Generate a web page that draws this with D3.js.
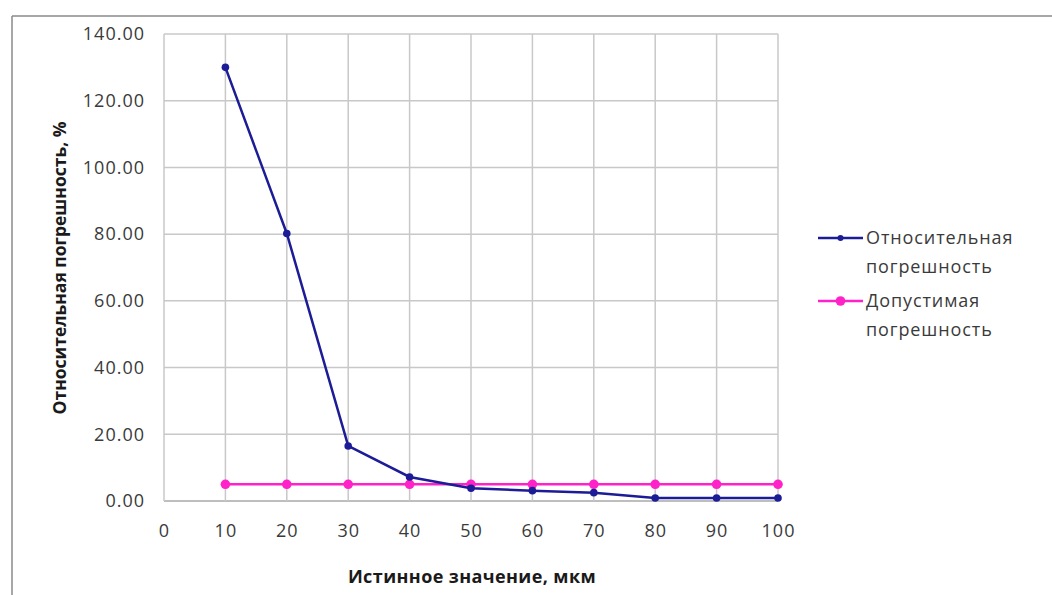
<!DOCTYPE html>
<html><head><meta charset="utf-8">
<script src="https://cdn.jsdelivr.net/npm/d3@7"></script>
<style>
body{margin:0;background:#fff;}
svg{display:block;font-family:"Open Sans",Lato,sans-serif;}
</style></head>
<body><svg id="c" width="1052" height="595"></svg>
<script>
const xValues = [10,20,30,40,50,60,70,80,90,100];
const relError = [130.0, 80.2, 16.5, 7.2, 3.8, 3.1, 2.5, 0.9, 0.9, 0.9];
const allowedError = [5,5,5,5,5,5,5,5,5,5];
const yTicks = [0,20,40,60,80,100,120,140];
const xTicks = [0,10,20,30,40,50,60,70,80,90,100];
const seriesNames = [["Относительная","погрешность"],["Допустимая","погрешность"]];
const colors = ["#1c1c96","#ff22c8"];

const svg = d3.select("#c");
// outer frame
svg.append("line").attr("x1",12).attr("x2",1052).attr("y1",16).attr("y2",16).attr("stroke","#8a8a8a").attr("stroke-width",1.5);
svg.append("line").attr("x1",12).attr("x2",12).attr("y1",16).attr("y2",595).attr("stroke","#8a8a8a").attr("stroke-width",1.5);

const x = d3.scaleLinear().domain([0,100]).range([164,778]);
const y = d3.scaleLinear().domain([0,140]).range([501,34]);

const grid = svg.append("g");
grid.selectAll(".h").data(yTicks).join("line")
  .attr("x1",x(0)).attr("x2",x(100)).attr("y1",d=>y(d)).attr("y2",d=>y(d))
  .attr("stroke",d=>d===0?"#a8a8a8":"#c8c8c8").attr("stroke-width",1.5);
grid.selectAll(".v").data(xTicks).join("line")
  .attr("y1",y(0)).attr("y2",y(140)).attr("x1",d=>x(d)).attr("x2",d=>x(d))
  .attr("stroke","#c8c8c8").attr("stroke-width",1.5);

const yAxis = svg.append("g").attr("transform",`translate(${x(0)},0)`)
  .call(d3.axisLeft(y).tickValues(yTicks).tickFormat(d3.format(".2f")).tickSize(0).tickPadding(19));
yAxis.select(".domain").remove();
yAxis.selectAll("text").attr("font-size",18).attr("letter-spacing",1).attr("fill","#3a3a3a").attr("font-family","Open Sans");

const xAxis = svg.append("g").attr("transform",`translate(0,${y(0)})`)
  .call(d3.axisBottom(x).tickValues(xTicks).tickFormat(d3.format("d")).tickSize(0).tickPadding(23));
xAxis.select(".domain").remove();
xAxis.selectAll("text").attr("font-size",18).attr("letter-spacing",1).attr("fill","#3a3a3a").attr("font-family","Open Sans");

svg.append("text").attr("transform","translate(66,268) rotate(-90)")
  .attr("text-anchor","middle").attr("font-weight","bold").attr("font-size",17.5).attr("fill","#1a1a1a")
  .text("Относительная погрешность, %");
svg.append("text").attr("x",472).attr("y",583)
  .attr("text-anchor","middle").attr("font-weight","bold").attr("font-size",18).attr("letter-spacing",0.4).attr("fill","#1a1a1a")
  .text("Истинное значение, мкм");

const line = d3.line().x((d,i)=>x(xValues[i])).y(d=>y(d));
[allowedError, relError].forEach((s,k)=>{
  const c = k===0?colors[1]:colors[0];
  const r = k===0?4.8:3.8;
  svg.append("path").datum(s).attr("d",line).attr("fill","none").attr("stroke",c).attr("stroke-width",2.5);
  svg.append("g").selectAll("circle").data(s).join("circle")
    .attr("cx",(d,i)=>x(xValues[i])).attr("cy",d=>y(d)).attr("r",r).attr("fill",c);
});

// legend
const leg = svg.append("g");
const legY = [238, 301];
seriesNames.forEach((nm,k)=>{
  leg.append("line").attr("x1",818).attr("x2",863).attr("y1",legY[k]).attr("y2",legY[k]).attr("stroke",colors[k]).attr("stroke-width",2.5);
  leg.append("circle").attr("cx",840.5).attr("cy",legY[k]).attr("r",k===0?3:4.8).attr("fill",colors[k]);
  nm.forEach((t,j)=>{
    leg.append("text").attr("x",866).attr("y",legY[k]+6+j*29).attr("font-size",18).attr("letter-spacing",0.9).attr("fill","#3a3a3a").text(t);
  });
});
</script></body></html>
